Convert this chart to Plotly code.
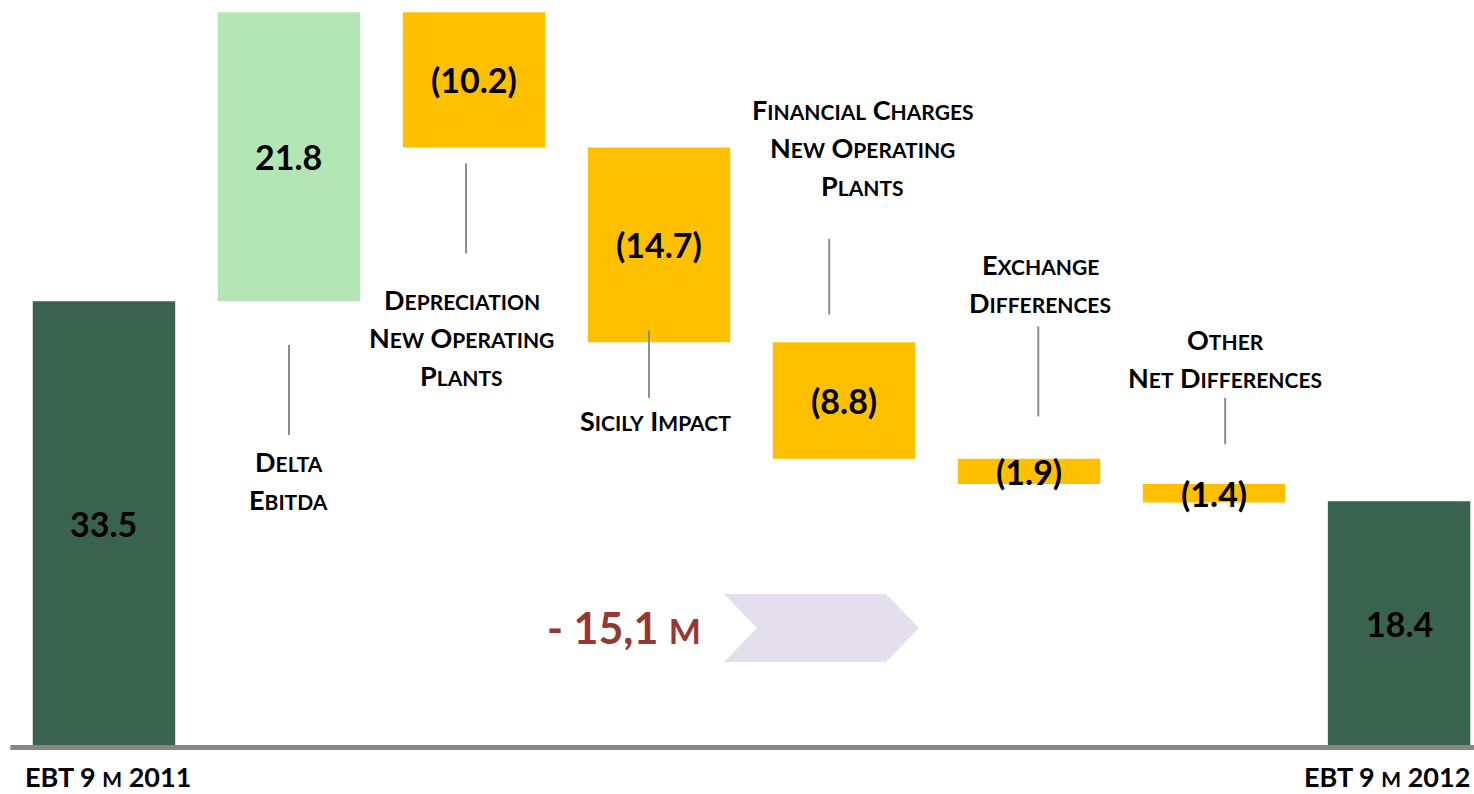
import plotly.graph_objects as go

# Data
steps = ["EBT 9 m 2011", "Delta Ebitda", "Depreciation New Operating Plants",
         "Sicily Impact", "Financial Charges New Operating Plants",
         "Exchange Differences", "Other Net Differences", "EBT 9 m 2012"]
values = [33.5, 21.8, -10.2, -14.7, -8.8, -1.9, -1.4, 18.4]
value_labels = ["33.5", "21.8", "(10.2)", "(14.7)", "(8.8)", "(1.9)", "(1.4)", "18.4"]
kinds = ["total", "up", "down", "down", "down", "down", "down", "total"]
delta_text = "- 15,1 m"

# label lines per step (middle ones only)
label_lines = {
    1: ["Delta", "Ebitda"],
    2: ["Depreciation", "New Operating", "Plants"],
    3: ["Sicily Impact"],
    4: ["Financial Charges", "New Operating", "Plants"],
    5: ["Exchange", "Differences"],
    6: ["Other", "Net Differences"],
}

colors = {"total": "#3A634F", "up": "#B3E6B4", "down": "#FFC000"}
FONT = "Lato, 'Open Sans', sans-serif"


def small_caps(s, big, small):
    out = ""
    for ch in s:
        if ch.islower():
            out += '<span style="font-size:%dpx">%s</span>' % (small, ch.upper())
        else:
            out += ch
    return '<span style="font-size:%dpx">%s</span>' % (big, out)


# bases for a waterfall
bases = []
running = 0
for v, k in zip(values, kinds):
    if k == "total":
        bases.append(0)
        running = v
    elif v >= 0:
        bases.append(running)
        running += v
    else:
        running += v
        bases.append(running)
heights = [abs(v) for v in values]
xs = list(range(len(values)))

fig = go.Figure()
fig.add_trace(go.Bar(
    x=xs, y=heights, base=bases, width=0.77,
    marker=dict(color=[colors[k] for k in kinds], line=dict(width=0)),
    hoverinfo="skip"
))

annotations = []
# value labels in bar middles
for i in xs:
    annotations.append(dict(
        x=i, y=bases[i] + heights[i] / 2, xref="x", yref="y",
        text="<b>%s</b>" % value_labels[i], showarrow=False,
        font=dict(family=FONT, size=34, color="black"),
        xanchor="center", yanchor="middle"
    ))

# category labels and connector lines
label_pos = {1: (1.0, 21.4), 2: (1.935, 33.6), 3: (2.98, 24.5),
             4: (4.10, 48.0), 5: (5.06, 36.3), 6: (6.06, 30.6)}
connectors = {1: (1.0, 30.2, 23.4), 2: (1.957, 43.9, 37.1), 3: (2.946, 31.3, 26.2),
              4: (3.92, 38.2, 32.5), 5: (5.05, 31.6, 24.8), 6: (6.06, 26.2, 22.7)}
step = 38 / 13.25
for i, lines in label_lines.items():
    lx, ly = label_pos[i]
    for j, ln in enumerate(lines):
        annotations.append(dict(
            x=lx, y=ly - j * step, xref="x", yref="y",
            text="<b>%s</b>" % small_caps(ln, 27, 21), showarrow=False,
            font=dict(family=FONT, color="black"),
            xanchor="center", yanchor="middle"
        ))

shapes = []
for i, (cx, y0, y1) in connectors.items():
    shapes.append(dict(type="line", xref="x", yref="y", x0=cx, x1=cx, y0=y0, y1=y1,
                       line=dict(color="#8C8C8C", width=2)))

# baseline
shapes.append(dict(type="line", xref="paper", yref="y", x0=0.007, x1=1, y0=-0.19, y1=-0.19,
                   line=dict(color="#878787", width=5)))

# chevron arrow
shapes.append(dict(type="path", xref="x", yref="y",
                   path="M 3.351 11.40 L 4.227 11.40 L 4.405 8.83 L 4.227 6.26 L 3.351 6.26 L 3.530 8.83 Z",
                   fillcolor="#E4DFEC", line=dict(width=0), layer="below"))

annotations.append(dict(
    x=2.81, y=8.83, xref="x", yref="y",
    text="<b>%s</b>" % small_caps(delta_text, 43, 34), showarrow=False,
    font=dict(family=FONT, color="#953735"), xanchor="center", yanchor="middle"
))

# x labels for totals
annotations.append(dict(
    x=0.02, y=-2.4, xref="x", yref="y",
    text="<b>%s</b>" % small_caps(steps[0], 27, 21), showarrow=False,
    font=dict(family=FONT, color="black"), xanchor="center", yanchor="middle"
))
annotations.append(dict(
    x=7.395, y=-2.4, xref="x", yref="y",
    text="<b>%s</b>" % small_caps(steps[-1], 27, 21), showarrow=False,
    font=dict(family=FONT, color="black"), xanchor="right", yanchor="middle"
))

fig.update_layout(
    width=1474, height=794,
    margin=dict(l=0, r=0, t=0, b=0),
    paper_bgcolor="white", plot_bgcolor="white",
    showlegend=False,
    xaxis=dict(range=[-0.562, 7.405], visible=False),
    yaxis=dict(range=[-3.70, 56.23], visible=False),
    annotations=annotations, shapes=shapes
)

fig.write_html("out.html", config={"displayModeBar": False},
               post_script="document.body.style.margin='0';")
